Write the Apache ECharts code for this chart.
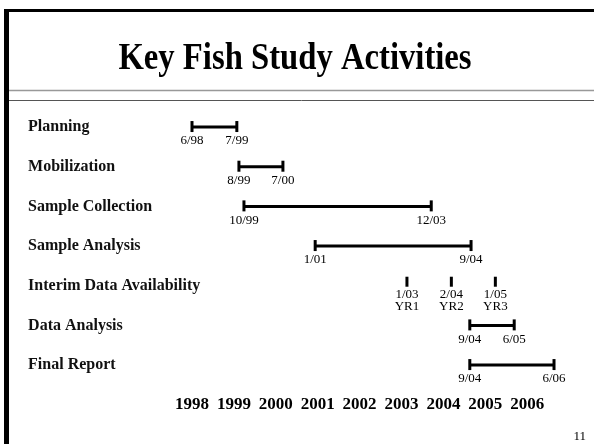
<!DOCTYPE html>
<html>
<head>
<meta charset="utf-8">
<script src="https://cdn.jsdelivr.net/npm/echarts@6/dist/echarts.min.js"></script>
<style>
html,body{margin:0;padding:0;background:#fff;}
#chart{width:594px;height:444px;}
</style>
</head>
<body>
<div id="chart"></div>
<script>
// ---- data ----
var activities = ['Planning', 'Mobilization', 'Sample Collection', 'Sample Analysis',
  'Interim Data Availability', 'Data Analysis', 'Final Report'];
// ranged activities: row index, start (year position), end (year position)
var rangeRows   = [0, 1, 2, 3, 5, 6];
var rangeStart  = [1998.00, 1999.12, 1999.24, 2000.94, 2004.63, 2004.63];
var rangeEnd    = [1999.07, 2000.17, 2003.71, 2004.66, 2005.69, 2006.64];
var startLabels = ['6/98', '8/99', '10/99', '1/01', '9/04', '9/04'];
var endLabels   = ['7/99', '7/00', '12/03', '9/04', '6/05', '6/06'];
// interim milestones
var interimRow    = 4;
var interimValues = [2003.13, 2004.19, 2005.24];
var interimDates  = ['1/03', '2/04', '1/05'];
var interimYears  = ['YR1', 'YR2', 'YR3'];
// axis years
var yearMin = 1997, yearMax = 2007;
var yearLabels = ['1998','1999','2000','2001','2002','2003','2004','2005','2006'];

var FONT = '"Liberation Serif", "Times New Roman", serif';

var rangeData = rangeRows.map(function (r, i) {
  return [r, rangeStart[i], rangeEnd[i], startLabels[i], endLabels[i]];
});
var interimData = interimValues.map(function (v, i) {
  return [interimRow, v, interimDates[i], interimYears[i]];
});

var chart = echarts.init(document.getElementById('chart'), null, {renderer: 'canvas'});
var option = {
  backgroundColor: '#ffffff',
  animation: false,
  grid: {left: 150.1, right: 24.9, top: 107.2, bottom: 59.1, containLabel: false},
  xAxis: {
    type: 'value', min: yearMin, max: yearMax, interval: 1,
    axisLine: {show: false}, axisTick: {show: false}, splitLine: {show: false},
    axisLabel: {
      margin: 11,
      color: '#000', fontFamily: FONT, fontWeight: 'bold', fontSize: 17,
      formatter: function (v) {
        var s = String(Math.round(v));
        return yearLabels.indexOf(s) >= 0 ? s : '';
      }
    }
  },
  yAxis: {
    type: 'category', inverse: true, data: activities,
    axisLine: {show: false}, axisTick: {show: false}, splitLine: {show: false},
    axisLabel: {
      align: 'left', margin: 122,
      color: '#111', fontFamily: FONT, fontWeight: 'bold', fontSize: 16
    }
  },
  graphic: [
    {type: 'rect', shape: {x: 4, y: 9, width: 590, height: 3}, style: {fill: '#000'}},
    {type: 'rect', shape: {x: 4, y: 9, width: 5, height: 435}, style: {fill: '#000'}},
    {type: 'line', shape: {x1: 9, y1: 90.5, x2: 594, y2: 90.5}, style: {stroke: '#999', lineWidth: 1.5}},
    {type: 'line', shape: {x1: 9, y1: 100.5, x2: 594, y2: 100.5}, style: {stroke: '#555', lineWidth: 1}},
    {type: 'text', x: 295, y: 59, scaleX: 0.86,
      style: {text: 'Key Fish Study Activities', fill: '#000', align: 'center', verticalAlign: 'middle',
        font: 'bold 38px ' + FONT}},
    {type: 'text', x: 586, y: 437,
      style: {text: '11', fill: '#000', align: 'right', verticalAlign: 'middle',
        font: '13px ' + FONT}}
  ],
  series: [
    {
      type: 'custom',
      data: rangeData,
      encode: {x: [1, 2], y: 0},
      renderItem: function (params, api) {
        var p1 = api.coord([api.value(1), api.value(0)]);
        var p2 = api.coord([api.value(2), api.value(0)]);
        var y = p1[1];
        var lf = '13px ' + FONT;
        return {
          type: 'group',
          children: [
            {type: 'line', shape: {x1: p1[0], y1: y, x2: p2[0], y2: y},
              style: {stroke: '#000', lineWidth: 3}},
            {type: 'rect', shape: {x: p1[0] - 1.5, y: y - 6, width: 3, height: 11}, style: {fill: '#000'}},
            {type: 'rect', shape: {x: p2[0] - 1.5, y: y - 6, width: 3, height: 11}, style: {fill: '#000'}},
            {type: 'text', x: p1[0], y: y + 14,
              style: {text: api.value(3), fill: '#000', align: 'center', verticalAlign: 'middle', font: lf}},
            {type: 'text', x: p2[0], y: y + 14,
              style: {text: api.value(4), fill: '#000', align: 'center', verticalAlign: 'middle', font: lf}}
          ]
        };
      }
    },
    {
      type: 'custom',
      data: interimData,
      encode: {x: 1, y: 0},
      renderItem: function (params, api) {
        var p = api.coord([api.value(1), api.value(0)]);
        var y = p[1];
        var lf = '13px ' + FONT;
        return {
          type: 'group',
          children: [
            {type: 'rect', shape: {x: p[0] - 1.5, y: y - 9, width: 3, height: 10}, style: {fill: '#000'}},
            {type: 'text', x: p[0], y: y + 9,
              style: {text: api.value(2), fill: '#000', align: 'center', verticalAlign: 'middle', font: lf}},
            {type: 'text', x: p[0], y: y + 21,
              style: {text: api.value(3), fill: '#000', align: 'center', verticalAlign: 'middle', font: lf}}
          ]
        };
      }
    }
  ]
};
chart.setOption(option);
</script>
</body>
</html>
